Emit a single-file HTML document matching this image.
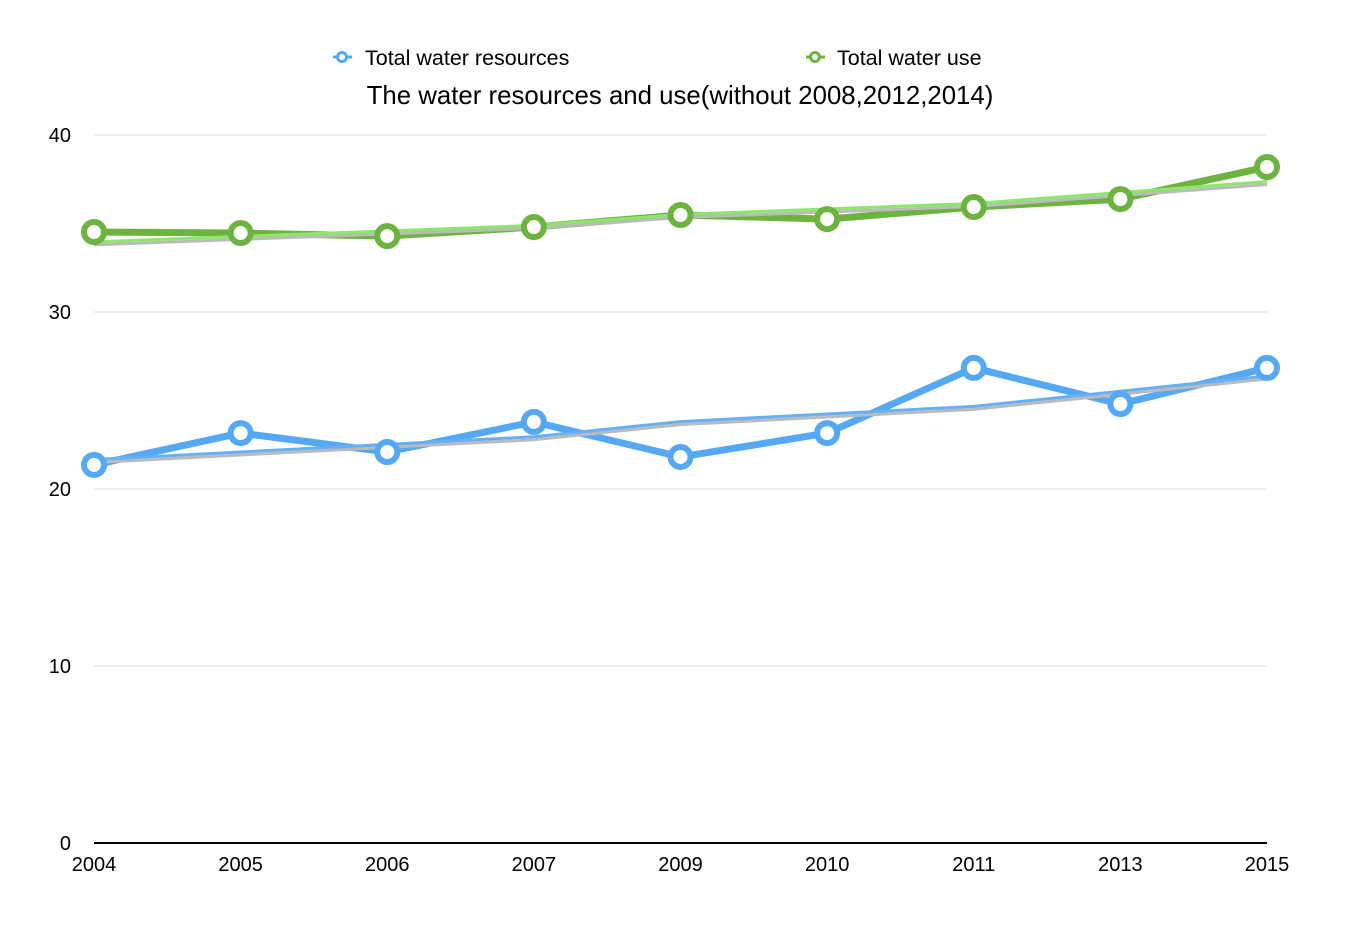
<!DOCTYPE html>
<html><head><meta charset="utf-8"><style>
body{margin:0;background:#fff;font-family:"Liberation Sans",sans-serif}
svg text{font-family:"Liberation Sans",sans-serif}
</style></head><body>
<svg id="c" width="1354" height="932"></svg>
<script>
const categories=["2004","2005","2006","2007","2009","2010","2011","2013","2015"];
const resources=[21.36,23.16,22.09,23.79,21.81,23.16,26.84,24.8,26.84];
const use=[34.52,34.46,34.29,34.8,35.48,35.25,35.93,36.38,38.19];
const yTicks=[0,10,20,30,40];
const NS="http://www.w3.org/2000/svg";
const svg=document.getElementById('c');
const x=i=>94+i*(1267-94)/(categories.length-1);
const y=v=>843-v*(843-135)/40;
function el(t,a,p){const e=document.createElementNS(NS,t);for(const k in a)e.setAttribute(k,a[k]);(p||svg).appendChild(e);return e;}
yTicks.forEach(t=>{
 const l=el('line',{x1:94,x2:1267,y1:y(t),y2:y(t),stroke:t===0?'#000':'#ddd','stroke-width':t===0?2:1});
 
 
 const tx=el('text',{x:71,y:y(t)+7,'text-anchor':'end','font-size':20});tx.textContent=t;
 
 
});
categories.forEach((c,i)=>{
 const tx=el('text',{x:x(i),y:871,'text-anchor':'middle','font-size':20});tx.textContent=c;
 
 
});
function trend(vals){const xs=categories.map(Number);const n=vals.length;let sx=0,sy=0,sxy=0,sxx=0;vals.forEach((v,i)=>{sx+=xs[i];sy+=v;sxy+=xs[i]*v;sxx+=xs[i]*xs[i]});const b=(n*sxy-sx*sy)/(n*sxx-sx*sx);const a=(sy-b*sx)/n;return xs.map(t=>a+b*t);}
function series(vals,main,tcol,name){
 const g=el('g',{});
 
 
 const pts=vals.map((v,i)=>x(i)+','+y(v)).join(' ');
 el('polyline',{points:pts,fill:'none',stroke:main,'stroke-width':7,'stroke-linejoin':'round'},g);
 const tr=trend(vals);
 const tp=tr.map((v,i)=>x(i)+','+y(v)).join(' ');
 el('polyline',{points:tr.map((v,i)=>x(i)+','+(y(v)+3)).join(' '),fill:'none',stroke:'#bbb','stroke-width':3},g);
 const tl=el('polyline',{points:tp,fill:'none',stroke:tcol,'stroke-width':3},g);
 
 
 vals.forEach((v,i)=>{
  const c=el('circle',{cx:x(i),cy:y(v),r:10,fill:'#fff',stroke:main,'stroke-width':6},g);
  
  
 });
}
series(use,'#6db33f','#8be86a','total-water-use');
series(resources,'#55a8f4','#66b0f6','total-water-resources');
</script>
<svg style="position:absolute;left:0;top:0" width="1354" height="120">
<g><line x1="333" x2="352" y1="57" y2="57" stroke="#55a8f4" stroke-width="3"/><circle cx="342" cy="57" r="4.5" fill="#fff" stroke="#55a8f4" stroke-width="3"/><text x="365" y="65" font-size="21.5">Total water resources</text></g>
<g><line x1="806" x2="825" y1="57" y2="57" stroke="#6db33f" stroke-width="3"/><circle cx="815" cy="57" r="4.5" fill="#fff" stroke="#6db33f" stroke-width="3"/><text x="837" y="65" font-size="21.5">Total water use</text></g>
<text x="680" y="104" text-anchor="middle" font-size="25.8">The water resources and use(without 2008,2012,2014)</text>
</svg>
</body></html>
